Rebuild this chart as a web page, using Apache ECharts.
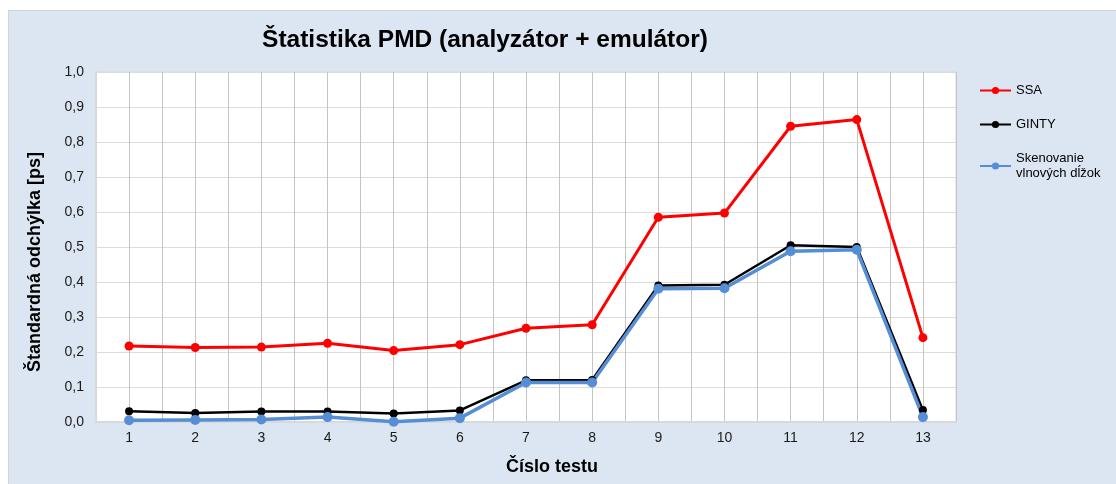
<!DOCTYPE html>
<html>
<head>
<meta charset="utf-8">
<title>Štatistika PMD</title>
<script src="https://cdn.jsdelivr.net/npm/echarts@6/dist/echarts.min.js"></script>
<style>
  html, body { margin: 0; padding: 0; width: 1116px; height: 484px; background: #ffffff; overflow: hidden; }
  #frame { position: absolute; left: 8px; top: 10px; width: 1120px; height: 490px;
           background: #dce6f2; border: 1px solid #d4d4d4; box-sizing: border-box; }
  #chart { position: absolute; left: 0; top: 0; width: 1116px; height: 484px; }
</style>
</head>
<body>
<div id="frame"></div>
<div id="chart"></div>
<script>
// Test numbers on the horizontal axis
const categories = [1, 2, 3, 4, 5, 6, 7, 8, 9, 10, 11, 12, 13];

// Standard deviation of PMD [ps] per method
const ssaValues   = [0.217, 0.213, 0.214, 0.225, 0.204, 0.221, 0.268, 0.278, 0.585, 0.597, 0.845, 0.864, 0.241];
const gintyValues = [0.031, 0.026, 0.030, 0.030, 0.024, 0.033, 0.119, 0.120, 0.390, 0.392, 0.505, 0.500, 0.034];
const scanValues  = [0.005, 0.006, 0.007, 0.014, 0.001, 0.011, 0.113, 0.113, 0.381, 0.382, 0.488, 0.492, 0.014];

const seriesNames = ['SSA', 'GINTY', 'Skenovanie\nvlnových dĺžok'];
const yTicks = [0, 0.1, 0.2, 0.3, 0.4, 0.5, 0.6, 0.7, 0.8, 0.9, 1.0];

const titleText = 'Štatistika PMD (analyzátor + emulátor)';
const xAxisTitle = 'Číslo testu';
const yAxisTitle = 'Štandardná odchýlka [ps]';

const FONT = '"Liberation Sans", Arial, sans-serif';

const pairs = vals => categories.map((c, i) => [c, vals[i]]);

const chart = echarts.init(document.getElementById('chart'), null, { renderer: 'canvas' });

chart.setOption({
  backgroundColor: 'transparent',
  animation: false,
  textStyle: { fontFamily: FONT },
  graphic: [
    {
      type: 'text', x: 485, y: 40,
      style: { text: titleText, fontFamily: FONT, fontSize: 24.5, fontWeight: 'bold',
               fill: '#000000', align: 'center', verticalAlign: 'middle' }
    },
    {
      type: 'text', x: 552, y: 467,
      style: { text: xAxisTitle, fontFamily: FONT, fontSize: 18, fontWeight: 'bold',
               fill: '#000000', align: 'center', verticalAlign: 'middle' }
    },
    {
      type: 'text', x: 35, y: 262, rotation: Math.PI / 2,
      style: { text: yAxisTitle, fontFamily: FONT, fontSize: 18, fontWeight: 'bold',
               fill: '#000000', align: 'center', verticalAlign: 'middle' }
    }
  ],
  legend: {
    orient: 'vertical',
    left: 979,
    top: 83,
    padding: 0,
    itemGap: 19,
    itemWidth: 31,
    itemHeight: 9,
    data: seriesNames,
    textStyle: { fontFamily: FONT, fontSize: 13, color: '#000000', lineHeight: 15 }
  },
  grid: {
    left: 96, right: 160, top: 72, bottom: 62,
    show: true, backgroundColor: '#ffffff', borderColor: '#d9d9d9', borderWidth: 1
  },
  xAxis: {
    type: 'value',
    min: 0.5, max: 13.5, interval: 0.5,
    axisLine: { show: true, lineStyle: { color: '#d9d9d9', width: 2 } },
    axisTick: { show: false },
    splitLine: { show: true, lineStyle: { color: '#c4c4c4', width: 1 } },
    axisLabel: {
      margin: 9,
      fontFamily: FONT, fontSize: 14, color: '#1a1a1a',
      showMinLabel: true, showMaxLabel: true,
      formatter: v => (categories.indexOf(v) >= 0 ? String(v) : '')
    }
  },
  yAxis: {
    type: 'value',
    min: yTicks[0], max: yTicks[yTicks.length - 1], interval: 0.1,
    axisLine: { show: true, lineStyle: { color: '#d9d9d9', width: 2 } },
    axisTick: { show: false },
    splitLine: { show: true, lineStyle: { color: '#dcdcdc', width: 1 } },
    axisLabel: {
      margin: 12,
      fontFamily: FONT, fontSize: 14, color: '#1a1a1a',
      formatter: v => v.toFixed(1).replace('.', ',')
    }
  },
  series: [
    {
      name: seriesNames[0], type: 'line', data: pairs(ssaValues),
      symbol: 'circle', symbolSize: 9,
      lineStyle: { color: '#ff0000', width: 3 },
      itemStyle: { color: '#ff0000' }
    },
    {
      name: seriesNames[1], type: 'line', data: pairs(gintyValues),
      symbol: 'circle', symbolSize: 8,
      lineStyle: { color: '#000000', width: 2.5 },
      itemStyle: { color: '#000000' }
    },
    {
      name: seriesNames[2], type: 'line', data: pairs(scanValues),
      symbol: 'circle', symbolSize: 10,
      lineStyle: { color: '#558ed5', width: 3.5 },
      itemStyle: { color: '#558ed5' }
    }
  ]
});
</script>
</body>
</html>
